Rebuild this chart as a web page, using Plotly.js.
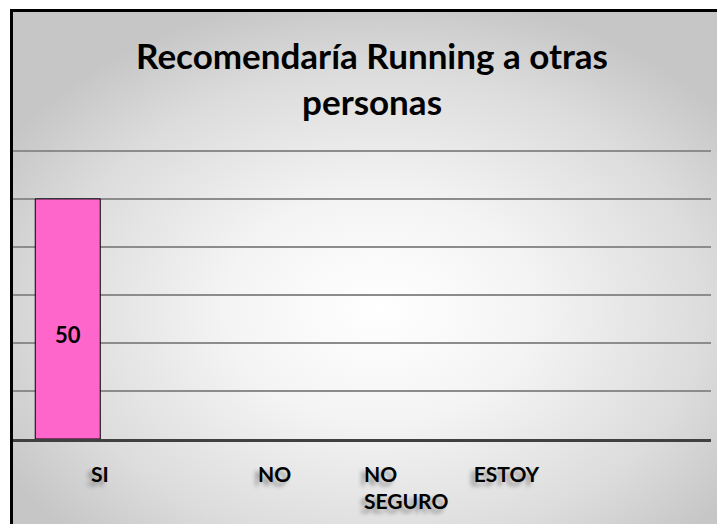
<!DOCTYPE html>
<html>
<head>
<meta charset="utf-8">
<script src="https://cdn.plot.ly/plotly-3.0.1.min.js"></script>
<style>
  html, body { margin: 0; padding: 0; background: #ffffff; }
  #frame {
    position: absolute; left: 10px; top: 9px;
    width: 704px; height: 512px;
    border-left: 3px solid #000; border-top: 3px solid #000;
    background: radial-gradient(ellipse 62% 62% at 52% 58%, #ffffff 0%, #f4f4f4 35%, #dcdcdc 75%, #c6c6c6 100%);
    overflow: hidden;
  }
  #chart { width: 704px; height: 512px; }
</style>
</head>
<body>
<div id="frame"><div id="chart"></div></div>
<script>
const categories = ["SI", "NO", "NO ESTOY SEGURO", ""];
const values = [50, 0, 0, 0];
const tickLabels = ["SI", "NO", "NO               ESTOY<br>SEGURO", ""];
const valueLabels = ["50", "", "", ""];
const gridValues = [10, 20, 30, 40, 50, 60];
const titleText = "Recomendaría Running a otras<br>personas";

const FONT = "Lato, 'Open Sans', sans-serif";

const trace = {
  type: "bar",
  x: categories,
  y: values,
  width: 0.3725,
  offset: -0.3725,
  marker: { color: "#FF66CC", line: { color: "#000", width: values.map(v => v > 0 ? 1 : 0) } },
  hoverinfo: "none"
};

const tickAnnotations = categories.map((c, i) => ({
  x: c, xref: "x", y: 0, yref: "paper",
  yanchor: "top", xanchor: (i === 2 ? "left" : "center"),
  xshift: (i === 2 ? -87 : 0),
  yshift: -20,
  text: tickLabels[i], showarrow: false, align: "left",
  font: { family: FONT, size: 21, color: "#000", weight: "bold",
          shadow: "-4px 4px 4px rgba(0,0,0,0.35)" }
})).filter(a => a.text !== "");

const valueAnnotations = categories.map((c, i) => ({
  x: c, xref: "x", y: values[i] / 2, yref: "y",
  xanchor: "center", yanchor: "middle",
  xshift: -32.5, yshift: -16,
  text: valueLabels[i], showarrow: false,
  font: { family: FONT, size: 22, color: "#000", weight: "bold" }
})).filter(a => a.text !== "");

const layout = {
  width: 704, height: 512,
  margin: { l: 0, r: 6, t: 136, b: 85 },
  paper_bgcolor: "rgba(0,0,0,0)",
  plot_bgcolor: "rgba(0,0,0,0)",
  title: {
    text: titleText,
    font: { family: FONT, size: 35, color: "#000", weight: "bold" },
    x: 0.51, xanchor: "center", xref: "container",
    y: 0.888, yanchor: "top", yref: "container"
  },
  showlegend: false,
  bargap: 0,
  xaxis: {
    type: "category",
    range: [-0.5, 3.5],
    showticklabels: false,
    ticks: "",
    showgrid: false,
    showline: true, linecolor: "#404040", linewidth: 3,
    zeroline: false, fixedrange: true
  },
  yaxis: {
    range: [0, 60.6],
    tickvals: gridValues,
    showticklabels: false,
    ticks: "",
    showgrid: true, gridcolor: "#8c8c8c", gridwidth: 2,
    zeroline: false, showline: false, fixedrange: true
  },
  annotations: tickAnnotations.concat(valueAnnotations)
};

Plotly.newPlot("chart", [trace], layout, { displayModeBar: false, staticPlot: true });
</script>
</body>
</html>
